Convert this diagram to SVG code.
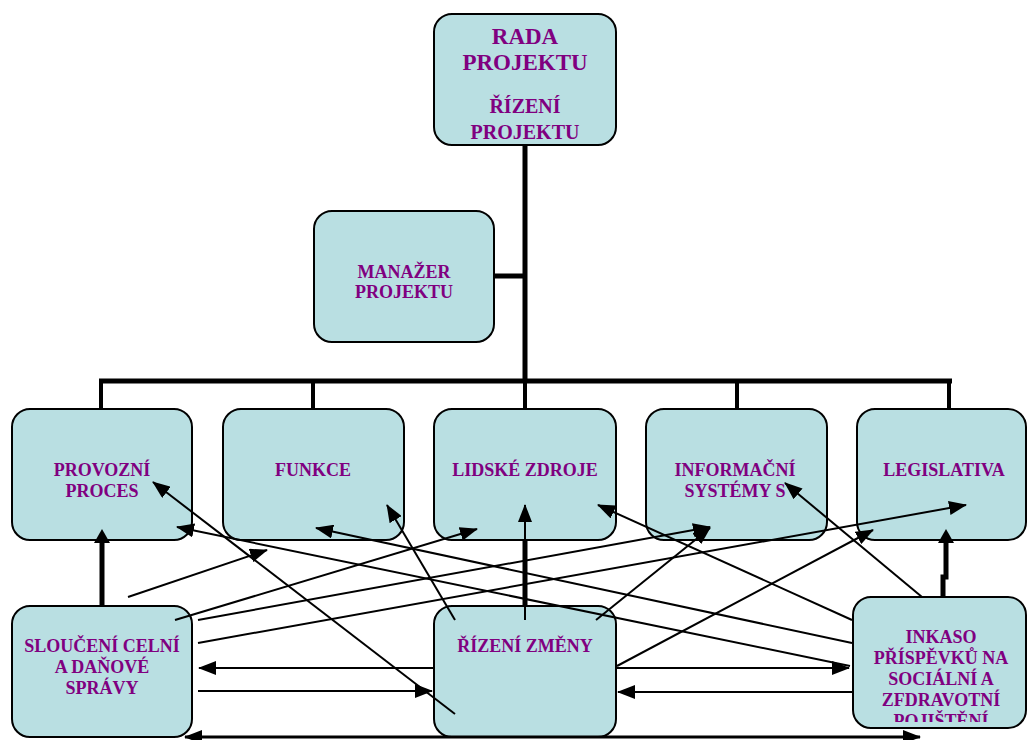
<svg xmlns="http://www.w3.org/2000/svg" width="1027" height="740" viewBox="0 0 1027 740">
<defs>
<style>
.box{fill:#B9DFE2;stroke:#000;stroke-width:2}
.t{font-family:"Liberation Serif","Times New Roman",serif;font-weight:bold;fill:#800080;text-anchor:middle;font-size:18px}
.tree{stroke:#000;stroke-width:5;fill:none}
.thin{stroke:#000;stroke-width:2;fill:none;marker-end:url(#ah)}
.thick{stroke:#000;stroke-width:5;fill:none;marker-end:url(#aht)}
</style>
<marker id="ah" markerUnits="userSpaceOnUse" markerWidth="18" markerHeight="14" refX="17" refY="7" orient="auto">
<path d="M0,0 L18,7 L0,14 z" fill="#000"/>
</marker>
<marker id="ahs" markerUnits="userSpaceOnUse" markerWidth="18" markerHeight="14" refX="17" refY="7" orient="auto-start-reverse">
<path d="M0,0 L18,7 L0,14 z" fill="#000"/>
</marker>
<marker id="aht" markerUnits="userSpaceOnUse" markerWidth="15" markerHeight="16" refX="1" refY="8" orient="auto">
<path d="M0,0 L14,8 L0,16 z" fill="#000"/>
</marker>
<clipPath id="inkclip"><rect x="853" y="597" width="174" height="125"/></clipPath>
</defs>

<g id="rada"><rect class="box" x="434" y="14" width="182" height="131" rx="18"/>
<text class="t" x="525" y="44" style="font-size:23px">RADA</text>
<text class="t" x="525" y="70" style="font-size:23px">PROJEKTU</text>
<text class="t" x="525" y="113" style="font-size:20px">ŘÍZENÍ</text>
<text class="t" x="525" y="139" style="font-size:20px">PROJEKTU</text></g>

<g id="manazer"><rect class="box" x="314" y="211" width="180" height="131" rx="18"/>
<text class="t" x="404" y="278">MANAŽER</text>
<text class="t" x="404" y="298">PROJEKTU</text></g>

<g id="provozni"><rect class="box" x="12" y="409" width="180" height="131" rx="18"/>
<text class="t" x="102" y="476">PROVOZNÍ</text>
<text class="t" x="102" y="497">PROCES</text></g>

<g id="funkce"><rect class="box" x="223" y="409" width="181" height="131" rx="18"/>
<text class="t" x="313" y="476">FUNKCE</text></g>

<g id="lidske"><rect class="box" x="434" y="409" width="182" height="131" rx="18"/>
<text class="t" x="525" y="476">LIDSKÉ ZDROJE</text></g>

<g id="informacni"><rect class="box" x="646" y="409" width="181" height="131" rx="18"/>
<text class="t" x="735" y="476">INFORMAČNÍ</text>
<text class="t" x="735" y="497">SYSTÉMY S</text></g>

<g id="legislativa"><rect class="box" x="857" y="409" width="169" height="131" rx="18"/>
<text class="t" x="944" y="476">LEGISLATIVA</text></g>

<g id="slouceni"><rect class="box" x="12" y="606" width="180" height="131" rx="18"/>
<text class="t" x="102" y="652">SLOUČENÍ CELNÍ</text>
<text class="t" x="102" y="673">A DAŇOVÉ</text>
<text class="t" x="102" y="694">SPRÁVY</text></g>

<g id="rizeni"><rect class="box" x="434" y="606" width="182" height="131" rx="18"/>
<text class="t" x="525" y="652">ŘÍZENÍ ZMĚNY</text></g>

<g id="inkaso"><rect class="box" x="853" y="597" width="173" height="131" rx="18"/>
<g clip-path="url(#inkclip)">
<text class="t" x="941" y="643">INKASO</text>
<text class="t" x="941" y="664">PŘÍSPĚVKŮ NA</text>
<text class="t" x="941" y="685">SOCIÁLNÍ A</text>
<text class="t" x="941" y="706">ZFDRAVOTNÍ</text>
<text class="t" x="941" y="727">POJIŠTĚNÍ</text></g></g>

<g id="connectors">
<path class="tree" d="M525,146 V383 M495,276 H525 M99,381 H952"/>
<path class="tree" style="stroke-width:4" d="M101,381 V408 M313,381 V408 M525,381 V408 M737,381 V408 M949,381 V408"/>
<line class="thick" x1="102" y1="605" x2="102" y2="542"/>
<line class="tree" x1="525" y1="541" x2="525" y2="605"/>
<line class="thin" x1="525" y1="620" x2="525" y2="505"/>
<path class="thick" d="M943,596 V577 H946 V542"/>
<line class="thin" x1="128" y1="597" x2="267" y2="550"/>
<line class="thin" x1="175" y1="620" x2="477" y2="529"/>
<line class="thin" x1="198" y1="620" x2="710" y2="527"/>
<line class="thin" x1="198" y1="643" x2="966" y2="505"/>
<line class="thin" x1="455" y1="714" x2="153" y2="482"/>
<line class="thin" x1="455" y1="620" x2="387" y2="505"/>
<line class="thin" x1="596" y1="620" x2="710" y2="528"/>
<line class="thin" x1="617" y1="666" x2="873" y2="530"/>
<line class="thin" x1="922" y1="597" x2="785" y2="483"/>
<line class="thin" x1="852" y1="620" x2="598" y2="505"/>
<line class="thin" x1="852" y1="643" x2="316" y2="528"/>
<line class="thin" x1="850" y1="666" x2="177" y2="527"/>
<line class="thin" x1="433" y1="668" x2="199" y2="668"/>
<line class="thin" x1="198" y1="691" x2="432" y2="691"/>
<line class="thin" x1="617" y1="668" x2="849" y2="668"/>
<line class="thin" x1="853" y1="692" x2="618" y2="692"/>
<line x1="185" y1="737" x2="920" y2="737" stroke="#000" stroke-width="3" marker-start="url(#ahs)" marker-end="url(#ahs)"/>
</g>
</svg>
